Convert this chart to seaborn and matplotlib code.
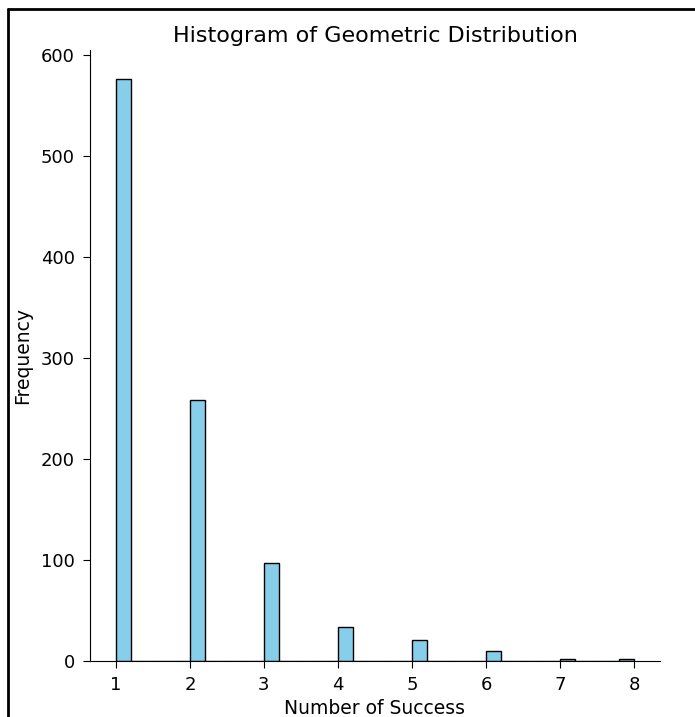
import matplotlib
matplotlib.use("Agg")
import matplotlib.pyplot as plt
import seaborn as sns
from matplotlib.lines import Line2D

values = [1, 2, 3, 4, 5, 6, 7, 8]
counts = [576, 258, 97, 34, 21, 10, 2, 2]

sns.set_style("ticks")
plt.rcParams['font.family'] = ['DejaVu Sans']
plt.rcParams['text.color'] = 'black'
plt.rcParams['axes.labelcolor'] = 'black'
plt.rcParams['xtick.color'] = 'black'
plt.rcParams['ytick.color'] = 'black'
plt.rcParams['axes.edgecolor'] = 'black'

fig = plt.figure(figsize=(6.95, 7.17), dpi=100)
ax = fig.add_axes([0.1295, 0.078, 0.82, 0.852])

sns.histplot(x=values, weights=counts, bins=35, binrange=(1, 8),
             color="skyblue", edgecolor="black", alpha=1, linewidth=1, ax=ax)
sns.despine(ax=ax)

ax.set_title("Histogram of Geometric Distribution", fontsize=16)
ax.set_xlabel("Number of Success", fontsize=13.5, labelpad=3)
ax.set_ylabel("Frequency", fontsize=13.5, labelpad=6)
ax.tick_params(labelsize=13, length=5, pad=6)
ax.set_xticks(values)

# screenshot frame
fig.add_artist(Line2D([0.012, 0.012], [0, 0.987], transform=fig.transFigure, color="black", lw=2))
fig.add_artist(Line2D([0.012, 1.0], [0.987, 0.987], transform=fig.transFigure, color="black", lw=2))

fig.savefig("out.png", dpi=100)
